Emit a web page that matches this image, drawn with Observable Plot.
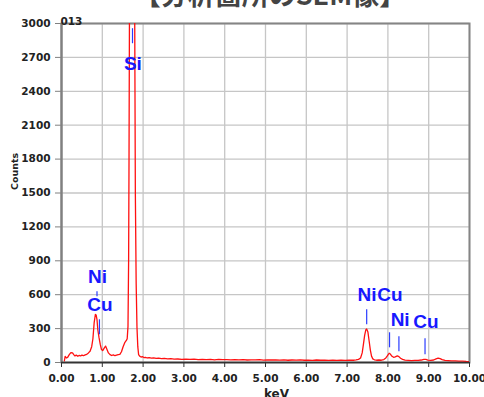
<!DOCTYPE html>
<html>
<head>
<meta charset="utf-8">
<script src="https://cdn.jsdelivr.net/npm/d3@7"></script>
<script src="https://cdn.jsdelivr.net/npm/@observablehq/plot@0.6"></script>
<style>
  html, body { margin: 0; padding: 0; background: #fff; }
  body { width: 484px; height: 397px; overflow: hidden; position: relative; }
  #title { position: absolute; top: -20px; left: 28px; width: 484px; text-align: center;
           font-family: "Noto Sans CJK JP"; font-weight: bold; font-size: 27px; line-height: 27px;
           color: #444; z-index: 2; white-space: nowrap; }
  #chart { position: absolute; top: 0; left: 0; }
</style>
</head>
<body>
<div id="title">【分析箇所のSEM像】</div>
<div id="chart"></div>
<script>
// Spectrum (keV, counts)
const energy = [0.07,0.09,0.12,0.15,0.19,0.23,0.27,0.30,0.33,0.36,0.40,0.43,0.47,0.50,0.54,0.58,0.62,0.66,0.70,0.74,0.77,0.80,0.83,0.85,0.87,0.89,0.92,0.95,0.98,1.01,1.05,1.08,1.11,1.15,1.19,1.23,1.27,1.31,1.35,1.39,1.43,1.47,1.51,1.55,1.59,1.61,1.63,1.645,1.655,1.665,1.69,1.73,1.76,1.795,1.81,1.83,1.85,1.87,1.89,1.92,1.95,1.98,2.02,2.06,2.10,2.15,2.20,2.26,2.32,2.38,2.45,2.52,2.60,2.68,2.76,2.85,2.95,3.05,3.15,3.25,3.35,3.45,3.55,3.65,3.75,3.85,3.95,4.05,4.15,4.25,4.35,4.45,4.55,4.65,4.75,4.85,4.95,5.05,5.15,5.25,5.35,5.45,5.55,5.65,5.75,5.85,5.95,6.05,6.15,6.25,6.35,6.45,6.55,6.65,6.75,6.85,6.95,7.05,7.15,7.22,7.28,7.33,7.37,7.40,7.43,7.46,7.48,7.51,7.54,7.57,7.60,7.63,7.67,7.72,7.78,7.84,7.90,7.95,7.99,8.03,8.06,8.10,8.14,8.18,8.23,8.27,8.31,8.36,8.42,8.50,8.58,8.66,8.74,8.82,8.88,8.93,8.98,9.05,9.12,9.18,9.23,9.28,9.33,9.40,9.48,9.56,9.65,9.74,9.83,9.92,10.00];
const counts = [15,55,40,45,70,88,85,70,58,65,55,62,58,66,60,68,72,85,100,140,210,350,425,420,380,290,220,160,115,105,130,145,120,85,70,62,68,60,65,70,72,95,140,175,195,210,320,900,1800,3000,6500,8500,7000,3000,1500,700,310,140,70,55,48,52,44,46,40,43,38,40,36,38,34,36,32,34,30,31,28,30,27,29,26,28,25,28,24,27,25,26,23,25,24,26,22,24,23,25,21,24,22,23,21,23,20,22,21,23,20,21,19,22,20,21,19,20,18,20,19,21,20,24,28,40,85,160,240,290,296,270,190,110,55,32,24,20,22,20,26,40,60,82,75,55,46,50,58,52,38,28,21,19,17,19,18,22,28,27,21,18,22,32,38,34,25,18,16,14,15,12,13,10,8];

// Tick values
const xTicks = [0,1,2,3,4,5,6,7,8,9,10];
const yTicks = [0,300,600,900,1200,1500,1800,2100,2400,2700,3000];

// Element marker lines (keV, from counts, to counts)
const markerKeV  = [1.74, 0.87, 0.93, 7.48, 8.04, 8.27, 8.91];
const markerLow  = [2821, 581, 245, 334, 130, 95, 68];
const markerHigh = [2954, 626, 378, 466, 263, 227, 210];

// Element labels
const labelText   = ["Si", "Ni", "Cu", "Ni", "Cu", "Ni", "Cu"];
const labelKeV    = [1.75, 0.88, 0.94, 7.49, 8.05, 8.30, 8.93];
const labelCounts = [2643, 754, 511, 599, 599, 373, 356];

const spectrum = energy.map((e, i) => ({e, c: counts[i]}));
const markers = markerKeV.map((e, i) => ({e, lo: markerLow[i], hi: markerHigh[i]}));
const labels = labelText.map((t, i) => ({t, e: labelKeV[i], c: labelCounts[i]}));

const chart = Plot.plot({
  width: 484,
  height: 410,
  marginLeft: 61,
  marginRight: 15,
  marginTop: 23,
  marginBottom: 48,
  x: {domain: [0, 10]},
  y: {domain: [0, 3000]},
  style: {fontFamily: "DejaVu Sans", fontSize: "10.5px", fontWeight: "bold", color: "#222", background: "#fff"},
  marks: [
    Plot.gridX(xTicks, {stroke: "#c6c6c6", strokeOpacity: 1, strokeWidth: 1.3}),
    Plot.gridY(yTicks, {stroke: "#c6c6c6", strokeOpacity: 1, strokeWidth: 1.3}),
    Plot.frame({stroke: "#858585", strokeWidth: 2}),
    Plot.line(spectrum, {x: "e", y: "c", stroke: "#ff1010", strokeWidth: 1.3, clip: true}),
    Plot.ruleX(markers, {x: "e", y1: "lo", y2: "hi", stroke: "#2a3cff", strokeWidth: 1.2}),
    Plot.text(labels, {x: "e", y: "c", text: "t", fill: "#1818ff", fontSize: 19, fontWeight: "bold", fontFamily: "Liberation Sans"}),
    Plot.ruleX([0], {stroke: "#808080", strokeWidth: 2}),
    Plot.ruleY([0], {stroke: "#333", strokeWidth: 1.6}),
    Plot.axisY(yTicks, {tickSize: 6, tickPadding: 5, tickFormat: d => String(d), stroke: "#808080", label: null, fill: "#222"}),
    Plot.axisX(xTicks, {tickSize: 5, tickPadding: 7, tickFormat: d => d.toFixed(2), stroke: "#333", label: null, fill: "#222"}),
    Plot.text(["Counts"], {frameAnchor: "left", rotate: -90, dx: -47, dy: -3, fontSize: 9.5, fontWeight: "bold", fill: "#222"}),
    Plot.text(["keV"], {frameAnchor: "bottom", lineAnchor: "top", dx: 11, dy: 27, fontSize: 12, fontWeight: "bold", fill: "#222"}),
    Plot.text(["013"], {frameAnchor: "top-left", textAnchor: "start", dx: -1, dy: -6, fontSize: 10.5, fontWeight: "bold", fill: "#222"})
  ]
});
document.getElementById("chart").appendChild(chart);
</script>
</body>
</html>
